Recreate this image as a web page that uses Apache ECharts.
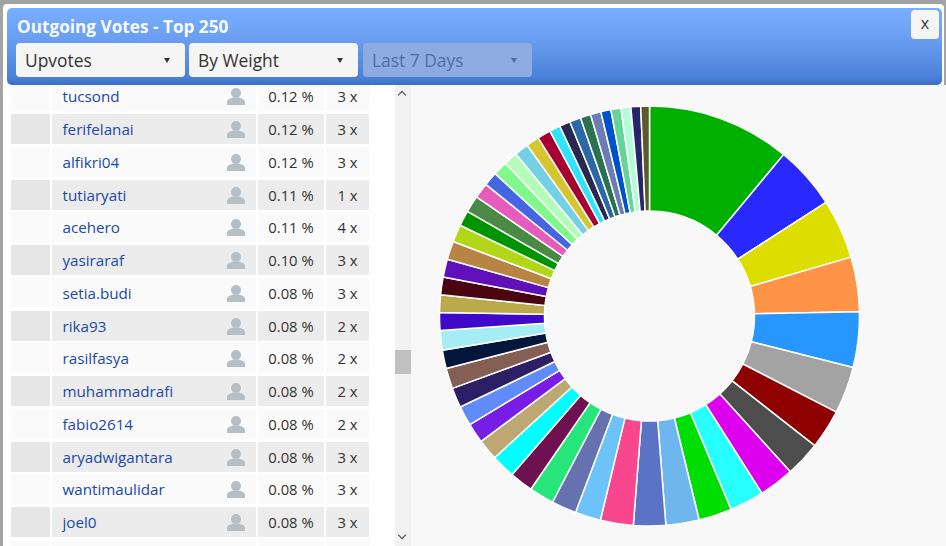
<!DOCTYPE html>
<html>
<head>
<meta charset="utf-8">
<title>Outgoing Votes</title>
<script src="https://cdn.jsdelivr.net/npm/echarts@6/dist/echarts.min.js"></script>
<style>
html, body { margin: 0; padding: 0; }
body { width: 946px; height: 546px; overflow: hidden; background: #a3a3a3; position: relative;
  font-family: "Open Sans", sans-serif; color: #333; }
#modal { position: absolute; left: 3px; top: 4px; width: 941px; height: 542px; background: #fff; border-radius: 4px 4px 0 0; }
#head { position: absolute; left: 7px; top: 8px; width: 935px; height: 77px; z-index: 5; border-radius: 5px;
  background: linear-gradient(to bottom, #7aaeff 0%, #6a9ef0 40%, #4a80d8 90%, #3b6fc6 100%); }
#head h1 { position: absolute; left: 10px; top: 7px; margin: 0; font-size: 17.2px; line-height: 24px; font-weight: 700; color: #f6f9ff; }
.sel { position: absolute; top: 35px; width: 169px; height: 34px; background: #f5f5f5; border-radius: 4px;
  font-size: 17.4px; line-height: 34px; text-indent: 9px; color: #333; }
.sel i { position: absolute; right: 15px; top: 15px; width: 0; height: 0; border-left: 3px solid transparent;
  border-right: 3px solid transparent; border-top: 5px solid #333; }
.sel.off { background: #8dabe0; color: #4e6ea8; }
.sel.off i { border-top-color: #4e6ea8; }
#close { position: absolute; left: 904px; top: 2px; width: 28px; height: 29px; background: #f5f5f5; border-radius: 4px;
  text-align: center; font-size: 16px; line-height: 27px; color: #333; }
#rows { position: absolute; left: 11px; top: 81.25px; width: 358px; }
.row { display: flex; height: 30px; margin-bottom: 2.75px; font-size: 14.8px; line-height: 31px; background: #fff; }
.row div { background: #fafafa; margin-right: 2px; height: 30px; position: relative; }
.row.alt div { background: #ececec; }
.row.alt .c0 { background: #e6e6e6; }
.c0 { width: 39px; }
.c1 { width: 204px; }
.c1 a { position: absolute; left: 10.5px; color: #1c48a8; font-size: 15.2px; }
.c1 svg { position: absolute; left: 174px; top: 6px; }
.c2 { width: 66px; text-align: center; }
.c3 { width: 43px; margin-right: 0 !important; text-align: center; }
#track { position: absolute; left: 395px; top: 85px; width: 16px; height: 461px; background: #f1f1f1; }
#thumb { position: absolute; left: 0; top: 265px; width: 16px; height: 24px; background: #c1c1c1; }
.arr { position: absolute; left: 4px; width: 5px; height: 5px; border-left: 1.5px solid #444; border-top: 1.5px solid #444; }
#up { top: 7px; transform: rotate(45deg); }
#down { top: 447px; transform: rotate(225deg); }
#main { position: absolute; left: 411px; top: 85px; width: 535px; height: 461px; background: #f8f8f8; }
</style>
</head>
<body>
<div id="modal"></div>
<div id="rows"></div>
<div id="track"><div id="thumb"></div><div class="arr" id="up"></div><div class="arr" id="down"></div></div>
<div id="main"></div>
<div id="head">
  <h1>Outgoing Votes - Top 250</h1>
  <div class="sel" style="left:9px">Upvotes<i></i></div>
  <div class="sel" style="left:182px">By Weight<i></i></div>
  <div class="sel off" style="left:356px">Last 7 Days<i></i></div>
  <div id="close">x</div>
</div>
<script>
// table rows
var names = ['tucsond', 'ferifelanai', 'alfikri04', 'tutiaryati', 'acehero', 'yasiraraf', 'setia.budi',
  'rika93', 'rasilfasya', 'muhammadrafi', 'fabio2614', 'aryadwigantara', 'wantimaulidar', 'joel0'];
var percents = ['0.12', '0.12', '0.12', '0.11', '0.11', '0.10', '0.08', '0.08', '0.08', '0.08', '0.08', '0.08', '0.08', '0.08'];
var counts = [3, 3, 3, 1, 4, 3, 3, 2, 2, 2, 2, 3, 3, 3];

// donut slices, clockwise from 12 o'clock
var shares = [39.7, 17.5, 16.5, 15.1, 15.4, 13.0, 10.9, 9.8, 9.7, 9.5, 9.2, 9.2,
  8.9, 9.1, 7.1, 6.9, 6.9, 6.5, 6.6, 5.8, 5.5, 5.5, 5.5, 5.7, 5.1, 5.4, 4.9,
  4.85, 4.9, 5.0, 5.1, 4.8, 4.3, 4.65, 4.25, 3.9, 4.0, 3.8, 3.9, 3.6, 3.7,
  3.0, 3.0, 3.1, 2.9, 2.9, 2.8, 2.8, 2.7, 2.7, 2.4];
var colors = ['#00b000', '#2828ff', '#dddd00', '#ff9448', '#2896ff', '#a3a3a3', '#8f0000', '#4d4d4d', '#dd00ee', '#28ffff', '#00dd00', '#6eb6ee',
  '#5b73c4', '#f8468f', '#6cc3fa', '#6672b0', '#25e57b', '#6f1150', '#00ffff', '#bda873', '#761ee6', '#5f8cfa', '#2c1f66', '#855e54', '#03173d', '#a5edf5', '#4008c8',
  '#bbaa4c', '#4a0510', '#6010b8', '#b88444', '#b2d618', '#009400', '#4a8a44', '#e65cbc', '#4466e2', '#80f88c', '#b4fcb8', '#74d0e4', '#d4c62c', '#a60034',
  '#2ee4fa', '#282850', '#2a68a8', '#2b7252', '#6c7cb4', '#0052cc', '#66d498', '#b4fcd8', '#25256a', '#5c5a28'];

var personIcon = '<svg width="20" height="20" viewBox="0 0 20 20"><circle cx="10" cy="6" r="5" fill="#b6bec6"/>' +
  '<path d="M1 18v-3c0-3 4-3.5 6-4.5h6c2 1 6 1.500 6 4.500v3z" fill="#b6bec6"/></svg>';

var html = '';
names.forEach(function (name, i) {
  html += '<div class="row' + (i % 2 ? ' alt' : '') + '"><div class="c0"></div>' +
    '<div class="c1"><a>' + name + '</a>' + personIcon + '</div>' +
    '<div class="c2">' + percents[i] + ' %</div><div class="c3">' + counts[i] + ' x</div></div>';
});
html += '<div class="row"><div class="c0"></div><div class="c1"></div><div class="c2"></div><div class="c3"></div></div>';
document.getElementById('rows').innerHTML = html;

var myChart = echarts.init(document.getElementById('main'));
myChart.setOption({
  animation: false,
  color: colors,
  series: [{
    type: 'pie',
    center: [238.5, 231],
    radius: [105, 210],
    startAngle: 90,
    clockwise: true,
    avoidLabelOverlap: false,
    label: { show: false },
    labelLine: { show: false },
    itemStyle: { borderColor: '#fff', borderWidth: 1.5 },
    data: shares.map(function (v, i) { return { name: 'slice ' + (i + 1), value: v }; })
  }]
});
</script>
</body>
</html>
